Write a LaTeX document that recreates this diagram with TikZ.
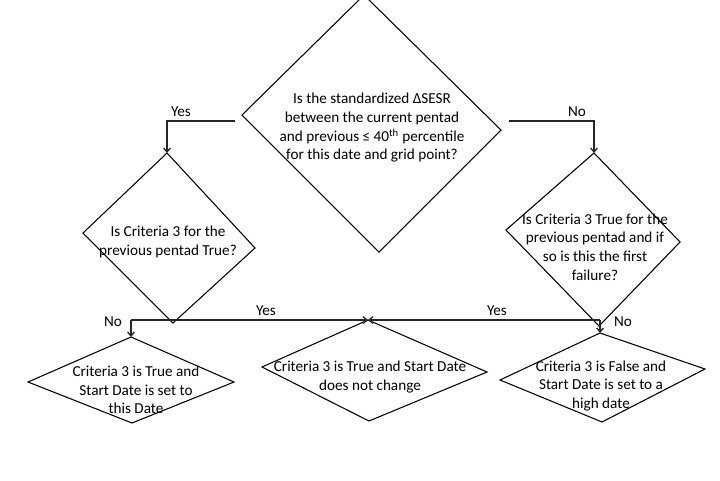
\documentclass[tikz,border=0pt]{standalone}
\usepackage{fontspec}
\setmainfont{Carlito}
\usetikzlibrary{arrows.meta}
\begin{document}
\begin{tikzpicture}[x=0.75pt,y=-0.75pt,
  dia/.style={draw=black,line width=0.8pt,line join=miter},
  conn/.style={draw=black!85,line width=1pt},
  arr/.style={conn,-{Straight Barb[length=3pt,width=5pt]}},
  txt/.style={align=center,inner sep=0pt,font=\fontsize{11.4}{14}\selectfont},
  lab/.style={inner sep=0pt,font=\fontsize{11.4}{14}\selectfont}]
\useasboundingbox (0,0) rectangle (720,480);
\clip (0,0) rectangle (720,480);
\fill[white] (0,0) rectangle (720,480);
% top diamond
\coordinate (Tt) at (364,-5);
\coordinate (Tr) at (501,130);
\coordinate (Tb) at (379,252);
\coordinate (Tl) at (242,115);
\draw[dia] (Tt) -- (Tr) -- (Tb) -- (Tl) -- cycle;
\node[txt] (Ttext) at (372,128) {Is the standardized ΔSESR\\between the current pentad\\and previous ≤ 40\textsuperscript{th} percentile\\for this date and grid point?};
% left diamond
\coordinate (Lt) at (167,153);
\coordinate (Lr) at (255,248);
\coordinate (Lb) at (173,323);
\coordinate (Ll) at (83,233);
\draw[dia] (Lt) -- (Lr) -- (Lb) -- (Ll) -- cycle;
\node[txt] (Ltext) at (168,242) {Is Criteria 3 for the\\previous pentad True?};
% right diamond
\coordinate (Rt) at (594,153);
\coordinate (Rr) at (680,242);
\coordinate (Rb) at (599,326);
\coordinate (Rl) at (506,230);
\draw[dia] (Rt) -- (Rr) -- (Rb) -- (Rl) -- cycle;
\node[txt] (Rtext) at (595,247) {Is Criteria 3 True for the\\previous pentad and if\\so is this the first\\failure?};
% bottom left
\coordinate (BLt) at (131,337);
\coordinate (BLr) at (234,382);
\coordinate (BLb) at (132,423);
\coordinate (BLl) at (28,382);
\draw[dia] (BLt) -- (BLr) -- (BLb) -- (BLl) -- cycle;
\node[txt] (BLtext) at (136,390) {Criteria 3 is True and\\Start Date is set to\\this Date};
% bottom middle
\coordinate (BMt) at (368,320);
\coordinate (BMr) at (487,372);
\coordinate (BMb) at (369,421);
\coordinate (BMl) at (262,367);
\draw[dia] (BMt) -- (BMr) -- (BMb) -- (BMl) -- cycle;
\node[txt] (BMtext) at (370,377) {Criteria 3 is True and Start Date\\does not change};
% bottom right
\coordinate (BRt) at (600,333);
\coordinate (BRr) at (705,369);
\coordinate (BRb) at (602,422);
\coordinate (BRl) at (500,380);
\draw[dia] (BRt) -- (BRr) -- (BRb) -- (BRl) -- cycle;
\node[txt] (BRtext) at (601,386) {Criteria 3 is False and\\Start Date is set to a\\high date};
% connectors
\coordinate (yesA) at (235,121);
\coordinate (noA) at (509,121);
\draw[arr] (yesA) -| (Lt);
\draw[arr] (noA) -| (Rt);
\coordinate (jL) at (131,320);
\coordinate (jR) at (600,320);
\draw[arr] (jL) -- (BLt);
\draw[arr] (jL) -- (BMt);
\draw[arr] (jR) -- (BMt);
\draw[arr] (jR) -- (BRt);
% labels
\node[lab] (l1) at (181,112) {Yes};
\node[lab] (l2) at (577,112) {No};
\node[lab] (l3) at (113,322) {No};
\node[lab] (l4) at (266,311) {Yes};
\node[lab] (l5) at (497,311) {Yes};
\node[lab] (l6) at (623,322) {No};
\end{tikzpicture}
\end{document}
